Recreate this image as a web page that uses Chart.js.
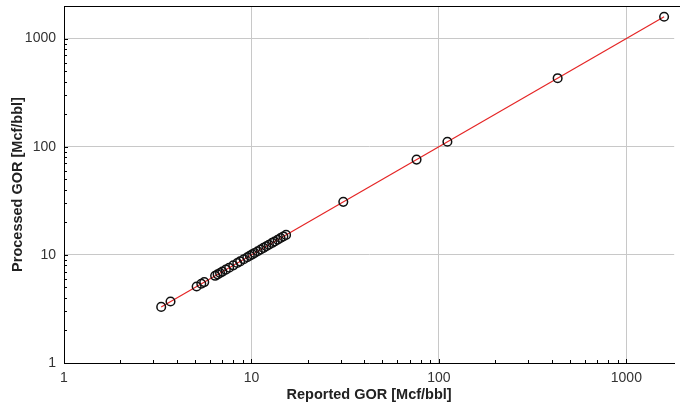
<!DOCTYPE html>
<html>
<head>
<meta charset="utf-8">
<script src="https://cdn.jsdelivr.net/npm/chart.js@4"></script>
<style>
  html, body { margin: 0; padding: 0; background: #fff; }
  #wrap { width: 680px; height: 409px; }
</style>
</head>
<body>
<div id="wrap"><canvas id="c"></canvas></div>
<script>
// Reported vs processed GOR (Mcf/bbl)
const reportedGOR = [3.3, 3.7, 5.1, 5.4, 5.6, 6.4, 6.6, 6.8, 7.0, 7.3, 7.6, 8.0, 8.4, 8.7, 9.1, 9.5, 9.8,
  10.1, 10.4, 10.8, 11.2, 11.6, 12.0, 12.4, 12.9, 13.3, 13.8, 14.3, 14.8, 15.3, 30.9, 76, 111, 430, 1590];
const processedGOR = [3.3, 3.7, 5.1, 5.4, 5.6, 6.4, 6.6, 6.8, 7.0, 7.3, 7.6, 8.0, 8.4, 8.7, 9.1, 9.5, 9.8,
  10.1, 10.4, 10.8, 11.2, 11.6, 12.0, 12.4, 12.9, 13.3, 13.8, 14.3, 14.8, 15.3, 30.9, 76, 111, 430, 1590];
const fitLine = [3.3, 1590]; // 1:1 line ends
const majorTicks = [1, 10, 100, 1000];

const isMajor = v => majorTicks.includes(v);
// only 1..9 x 10^n get a minor tick mark, not the axis end value
const isStep = v => {
  const m = v / Math.pow(10, Math.floor(Math.log10(v) + 1e-9));
  return Math.abs(m - Math.round(m)) < 1e-6;
};

// minor tick marks drawn inside the plot + top frame line
const frame = {
  id: 'frame',
  afterDraw(chart) {
    const { ctx, chartArea: a, scales } = chart;
    ctx.save();
    ctx.strokeStyle = '#000';
    ctx.lineWidth = 1;
    ctx.beginPath();
    ctx.moveTo(a.left, a.top + 0.5);
    ctx.lineTo(chart.width, a.top + 0.5);
    scales.x.ticks.forEach(t => {
      if (!isStep(t.value) || t.value >= scales.x.max) return;
      const px = Math.round(scales.x.getPixelForValue(t.value)) + 0.5;
      const len = isMajor(t.value) ? 4 : 3;
      ctx.moveTo(px, a.bottom);
      ctx.lineTo(px, a.bottom - len);
    });
    scales.y.ticks.forEach(t => {
      if (!isStep(t.value) || t.value >= scales.y.max) return;
      const py = Math.round(scales.y.getPixelForValue(t.value)) + 0.5;
      const len = isMajor(t.value) ? 4 : 3;
      ctx.moveTo(a.left, py);
      ctx.lineTo(a.left + len, py);
    });
    ctx.stroke();
    ctx.restore();
  }
};

const tickFont = { family: 'Liberation Sans, Arial, sans-serif', size: 14 };
const titleFont = { family: 'Liberation Sans, Arial, sans-serif', size: 14.5, weight: 'bold' };

new Chart(document.getElementById('c'), {
  data: {
    datasets: [
      {
        type: 'line',
        data: fitLine.map(v => ({ x: v, y: v })),
        borderColor: '#e52525',
        borderWidth: 1.2,
        pointRadius: 0,
        order: 2
      },
      {
        type: 'scatter',
        data: reportedGOR.map((v, i) => ({ x: v, y: processedGOR[i] })),
        pointRadius: 4.3,
        pointBorderColor: '#111',
        pointBackgroundColor: 'rgba(255,255,255,0)',
        pointBorderWidth: 1.5,
        order: 1
      }
    ]
  },
  options: {
    responsive: true,
    maintainAspectRatio: false,
    animation: false,
    layout: { padding: { top: 6, right: 0, left: 0, bottom: 0 } },
    plugins: { legend: { display: false }, tooltip: { enabled: false } },
    scales: {
      x: {
        type: 'logarithmic',
        min: 1,
        max: 1800,
        afterFit(s) { s.height = 46; s.paddingLeft = 0; s.paddingRight = 0; },
        border: { color: '#000', width: 1 },
        grid: {
          drawTicks: false,
          color: ctx => isMajor(ctx.tick && ctx.tick.value) ? '#c8c8c8' : 'rgba(0,0,0,0)'
        },
        ticks: {
          autoSkip: false,
          maxRotation: 0,
          padding: 7,
          color: '#333',
          font: tickFont,
          callback: v => isMajor(v) ? String(v) : ''
        },
        title: {
          display: true,
          text: 'Reported GOR [Mcf/bbl]',
          color: '#222',
          font: titleFont,
          padding: { top: 2, bottom: 5 }
        }
      },
      y: {
        type: 'logarithmic',
        min: 1,
        max: 2000,
        afterFit(s) { s.width = 64; s.paddingTop = 0; s.paddingBottom = 0; },
        border: { color: '#000', width: 1 },
        grid: {
          drawTicks: false,
          color: ctx => isMajor(ctx.tick && ctx.tick.value) ? '#c8c8c8' : 'rgba(0,0,0,0)'
        },
        ticks: {
          autoSkip: false,
          padding: 8,
          color: '#333',
          font: tickFont,
          callback: v => isMajor(v) ? String(v) : ''
        },
        title: {
          display: true,
          text: 'Processed GOR [Mcf/bbl]',
          color: '#222',
          font: titleFont,
          padding: { top: 9, bottom: 4 }
        }
      }
    }
  },
  plugins: [frame]
});
</script>
</body>
</html>
